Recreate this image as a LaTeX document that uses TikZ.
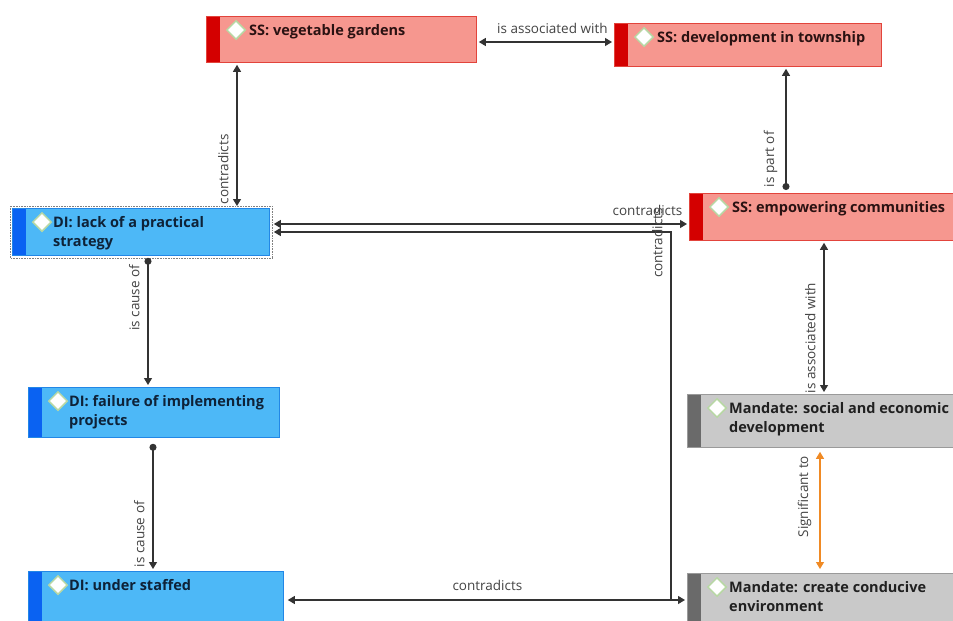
\documentclass[tikz,border=0pt]{standalone}
\usepackage{fontspec}
\setmainfont{Open Sans}
\usetikzlibrary{arrows.meta,shapes.geometric,calc}

\definecolor{ssfill}{HTML}{F6978F}
\definecolor{ssborder}{HTML}{E2443C}
\definecolor{ssstrip}{HTML}{D40000}
\definecolor{sstext}{HTML}{2A1212}
\definecolor{difill}{HTML}{4DB8F7}
\definecolor{diborder}{HTML}{2287E6}
\definecolor{distrip}{HTML}{0A62F2}
\definecolor{ditext}{HTML}{0E2238}
\definecolor{mdfill}{HTML}{C9C9C9}
\definecolor{mdborder}{HTML}{9A9A9A}
\definecolor{mdstrip}{HTML}{6A6A6A}
\definecolor{mdtext}{HTML}{202020}
\definecolor{linecol}{HTML}{333333}
\definecolor{labelcol}{HTML}{444444}
\definecolor{signif}{HTML}{F08A24}
\definecolor{gemgreen}{HTML}{B8D8A4}

\tikzset{
  x=1pt, y=-1pt,
  cbox/.style n args={3}{rectangle, draw=#1, fill=#2, line width=0.8pt,
    anchor=north west, inner sep=0pt,
    path picture={\fill[#3] (path picture bounding box.north west)
      rectangle ([xshift=14pt]path picture bounding box.south west);}},
  ssbox/.style={cbox={ssborder}{ssfill}{ssstrip}},
  dibox/.style={cbox={diborder}{difill}{distrip}},
  mdbox/.style={cbox={mdborder}{mdfill}{mdstrip}},
  boxtext/.style={anchor=north west, inner sep=0pt, align=left,
    font=\bfseries\fontsize{14.5}{19}\selectfont, text=#1},
  gem/.style={diamond, fill=white, draw=gemgreen, line width=1.5pt,
    minimum size=19pt, inner sep=0pt},
  connector/.style={draw=linecol, line width=1.1pt},
  tipend/.tip={Triangle[width=8pt,length=7pt]},
  dotend/.tip={Circle[length=7pt]},
  biarrow/.style={connector, tipend-tipend},
  dotarrow/.style={connector, dotend-tipend},
  lbl/.style={font=\fontsize{13.5}{15}\selectfont, text=labelcol, inner sep=2pt},
  vlbl/.style={lbl, rotate=90, anchor=south, inner sep=8pt},
}

\begin{document}
\begin{tikzpicture}
\useasboundingbox (0,0) rectangle (953,621);
\fill[white] (0,0) rectangle (953,621);

% concept boxes
\node[ssbox, minimum width=270pt, minimum height=46pt] (veg) at (206,16) {};
\node[ssbox, minimum width=267pt, minimum height=43pt] (town) at (614,23) {};
\node[dibox, minimum width=257pt, minimum height=47pt] (lack) at (12,208) {};
\node[ssbox, minimum width=272pt, minimum height=47pt] (emp) at (689,193) {};
\node[dibox, minimum width=251pt, minimum height=50pt] (fail) at (28,387) {};
\node[dibox, minimum width=255pt, minimum height=60pt] (staff) at (28,571) {};
\node[mdbox, minimum width=272pt, minimum height=53pt] (social) at (687,394) {};
\node[mdbox, minimum width=272pt, minimum height=60pt] (cond) at (687,573) {};

% selection frame
\draw[gray, densely dotted, line width=0.6pt]
  ([shift={(-2pt,2pt)}]lack.north west) rectangle ([shift={(2pt,-2pt)}]lack.south east);

% icons and titles
\foreach \b in {veg,town,lack,emp,fail,staff,social,cond}
  \node[gem] (\b-gem) at ([shift={(30pt,-14pt)}]\b.north west) {};

\node[boxtext=sstext] (veg-t) at ([shift={(43pt,-8pt)}]veg.north west) {SS: vegetable gardens};
\node[boxtext=sstext] (town-t) at ([shift={(43pt,-8pt)}]town.north west) {SS: development in township};
\node[boxtext=ditext] (lack-t) at ([shift={(41pt,-8pt)}]lack.north west) {DI: lack of a practical\\strategy};
\node[boxtext=sstext] (emp-t) at ([shift={(43pt,-8pt)}]emp.north west) {SS: empowering communities};
\node[boxtext=ditext] (fail-t) at ([shift={(41pt,-8pt)}]fail.north west) {DI: failure of implementing\\projects};
\node[boxtext=ditext] (staff-t) at ([shift={(41pt,-8pt)}]staff.north west) {DI: under staffed};
\node[boxtext=mdtext] (social-t) at ([shift={(42pt,-8pt)}]social.north west) {Mandate: social and economic\\development};
\node[boxtext=mdtext] (cond-t) at ([shift={(42pt,-8pt)}]cond.north west) {Mandate: create conducive\\environment};

% relations
\draw[biarrow, shorten >=2pt] ([shift={(2pt,-26pt)}]veg.north east) coordinate (e1)
  -- node[lbl, above=6pt, xshift=6pt] {is associated with} (e1 -| town.west);

\draw[biarrow, shorten >=2pt] ([shift={(31pt,-2pt)}]veg.south west) coordinate (e2)
  -- node[vlbl, pos=0.73] {contradicts} (e2 |- lack.north);

\draw[dotarrow, shorten >=2pt] ([shift={(97pt,3pt)}]emp.north west) coordinate (e3)
  -- node[vlbl, pos=0.25] {is part of} (e3 |- town.south);

\draw[biarrow, shorten >=2pt] ([shift={(4pt,-16pt)}]lack.north east) coordinate (e4)
  -- node[lbl, above=6pt, pos=0.9] {contradicts} (e4 -| emp.west);

\draw[dotarrow, shorten >=2pt] ([shift={(136pt,-2pt)}]lack.south west) coordinate (e5)
  -- node[vlbl, pos=0.31] {is cause of} (e5 |- fail.north);

\draw[dotarrow, shorten >=2pt] ([shift={(125pt,-6pt)}]fail.south west) coordinate (e6)
  -- node[vlbl, pos=0.71] {is cause of} (e6 |- staff.north);

\draw[biarrow, shorten >=2pt] ([shift={(135pt,-2pt)}]emp.south west) coordinate (e7)
  -- node[vlbl, pos=0.63] {is associated with} (e7 |- social.north);

\draw[biarrow, draw=signif, shorten >=4pt] ([shift={(133pt,-4pt)}]social.south west) coordinate (e8)
  -- node[vlbl, pos=0.37] {Significant to} (e8 |- cond.north);

\draw[biarrow, shorten >=2pt] ([shift={(4pt,-29pt)}]staff.north east) coordinate (e9)
  -- node[lbl, above=7pt] {contradicts} (e9 -| cond.west);
\coordinate (j) at ([xshift=-16pt]e9 -| cond.west);

\draw[connector, tipend-] ([shift={(4pt,-24pt)}]lack.north east) coordinate (e10)
  -- (e10 -| j) -- node[vlbl, pos=0.03] {contradicts} (j);
\end{tikzpicture}
\end{document}
